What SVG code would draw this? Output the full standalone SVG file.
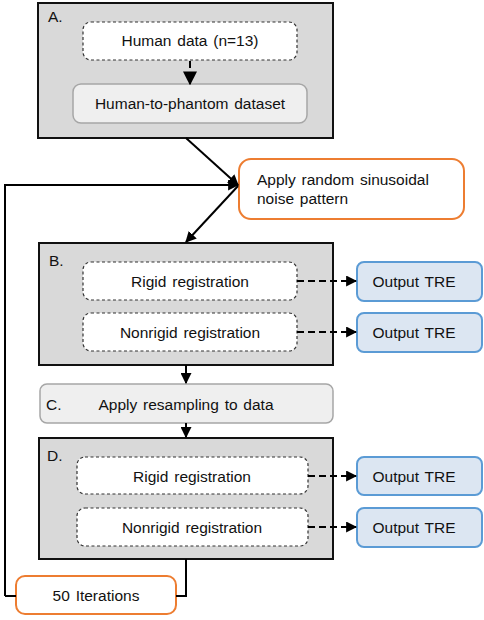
<svg xmlns="http://www.w3.org/2000/svg" width="484" height="620" viewBox="0 0 484 620">
<defs>
<style>
text{font-family:"Liberation Sans",Arial,sans-serif;font-size:15.5px;fill:#111;word-spacing:1.5px}
.grp{fill:#d9d9d9;stroke:#111;stroke-width:2}
.dash{fill:#fff;stroke:#333;stroke-width:1.2;stroke-dasharray:3 2.5}
.lg{fill:#efefef;stroke:#a6a6a6;stroke-width:1.5}
.or{fill:#fff;stroke:#ed7d31;stroke-width:2}
.bl{fill:#dce6f2;stroke:#5b9bd5;stroke-width:2}
.c{stroke:#000;stroke-width:2;fill:none}
.cd{stroke:#000;stroke-width:2;fill:none;stroke-dasharray:7 4}
</style>
<marker id="ah" viewBox="0 0 10 10" refX="9" refY="5" markerWidth="5.5" markerHeight="5.5" orient="auto" markerUnits="strokeWidth"><path d="M0,0 L10,5 L0,10 z" fill="#000"/></marker>
<marker id="ahs" viewBox="0 0 10 10" refX="9" refY="5" markerWidth="7" markerHeight="7" orient="auto" markerUnits="strokeWidth"><path d="M0,0 L10,5 L0,10 z" fill="#000"/></marker>
</defs>
<g id="A">
<rect class="grp" x="38" y="3" width="295" height="135"/>
<text x="48" y="22">A.</text>
</g>
<g id="humandata">
<rect class="dash" x="83" y="22" width="214" height="38" rx="8"/>
<text x="190" y="46" text-anchor="middle">Human data (n=13)</text>
</g>
<g id="h2p">
<rect class="lg" x="73" y="84" width="234" height="39" rx="8"/>
<text x="190" y="109" text-anchor="middle">Human-to-phantom  dataset</text>
</g>
<g id="noise">
<rect class="or" x="239" y="159" width="225" height="60" rx="12"/>
<text x="257" y="185">Apply random sinusoidal</text>
<text x="257" y="204">noise pattern</text>
</g>
<g id="B">
<rect class="grp" x="39" y="243" width="294" height="122"/>
<text x="49" y="266">B.</text>
</g>
<g id="B_rigid">
<rect class="dash" x="83" y="262" width="214" height="38" rx="8"/>
<text x="190" y="287" text-anchor="middle">Rigid registration</text>
</g>
<g id="B_nonrigid">
<rect class="dash" x="83" y="313" width="214" height="38" rx="8"/>
<text x="190" y="338" text-anchor="middle">Nonrigid registration</text>
</g>
<g id="B_out1">
<rect class="bl" x="357" y="262" width="125" height="39" rx="7"/>
<text x="414" y="287" text-anchor="middle">Output TRE</text>
</g>
<g id="B_out2">
<rect class="bl" x="357" y="313" width="125" height="39" rx="7"/>
<text x="414" y="338" text-anchor="middle">Output TRE</text>
</g>
<g id="C">
<rect class="lg" x="40" y="384" width="293" height="39" rx="7"/>
<text x="46" y="410">C.</text>
<text x="186" y="410" text-anchor="middle">Apply resampling to data</text>
</g>
<g id="D">
<rect class="grp" x="39" y="438" width="294" height="121"/>
<text x="47" y="461">D.</text>
</g>
<g id="D_rigid">
<rect class="dash" x="77" y="457" width="231" height="37" rx="8"/>
<text x="192" y="482" text-anchor="middle">Rigid registration</text>
</g>
<g id="D_nonrigid">
<rect class="dash" x="77" y="508" width="231" height="38" rx="8"/>
<text x="192" y="533" text-anchor="middle">Nonrigid registration</text>
</g>
<g id="D_out1">
<rect class="bl" x="357" y="457" width="125" height="38" rx="7"/>
<text x="414" y="482" text-anchor="middle">Output TRE</text>
</g>
<g id="D_out2">
<rect class="bl" x="357" y="508" width="125" height="39" rx="7"/>
<text x="414" y="533" text-anchor="middle">Output TRE</text>
</g>
<g id="iter">
<rect class="or" x="16" y="576" width="160" height="38" rx="9"/>
<text x="96" y="601" text-anchor="middle">50 Iterations</text>
</g>
<g id="connectors">
<path class="cd" d="M190,61 V84" stroke-width="1.5" marker-end="url(#ahs)" stroke-dasharray="4 3"/>
<path class="c" d="M186,138 L238,185" marker-end="url(#ah)"/>
<path class="c" d="M5,596 V185 H238" marker-end="url(#ah)"/>
<path class="c" d="M5,596 H16"/>
<path class="c" d="M238,186 L186,242" marker-end="url(#ah)"/>
<path class="cd" d="M297,281 H356" marker-end="url(#ah)"/>
<path class="cd" d="M297,332 H356" marker-end="url(#ah)"/>
<path class="c" d="M186,365 V383" marker-end="url(#ah)"/>
<path class="c" d="M186,423 V437" marker-end="url(#ah)"/>
<path class="cd" d="M308,476 H356" marker-end="url(#ah)"/>
<path class="cd" d="M308,527 H356" marker-end="url(#ah)"/>
<path class="c" d="M186,559 V596 H176"/>
</g>
</svg>
